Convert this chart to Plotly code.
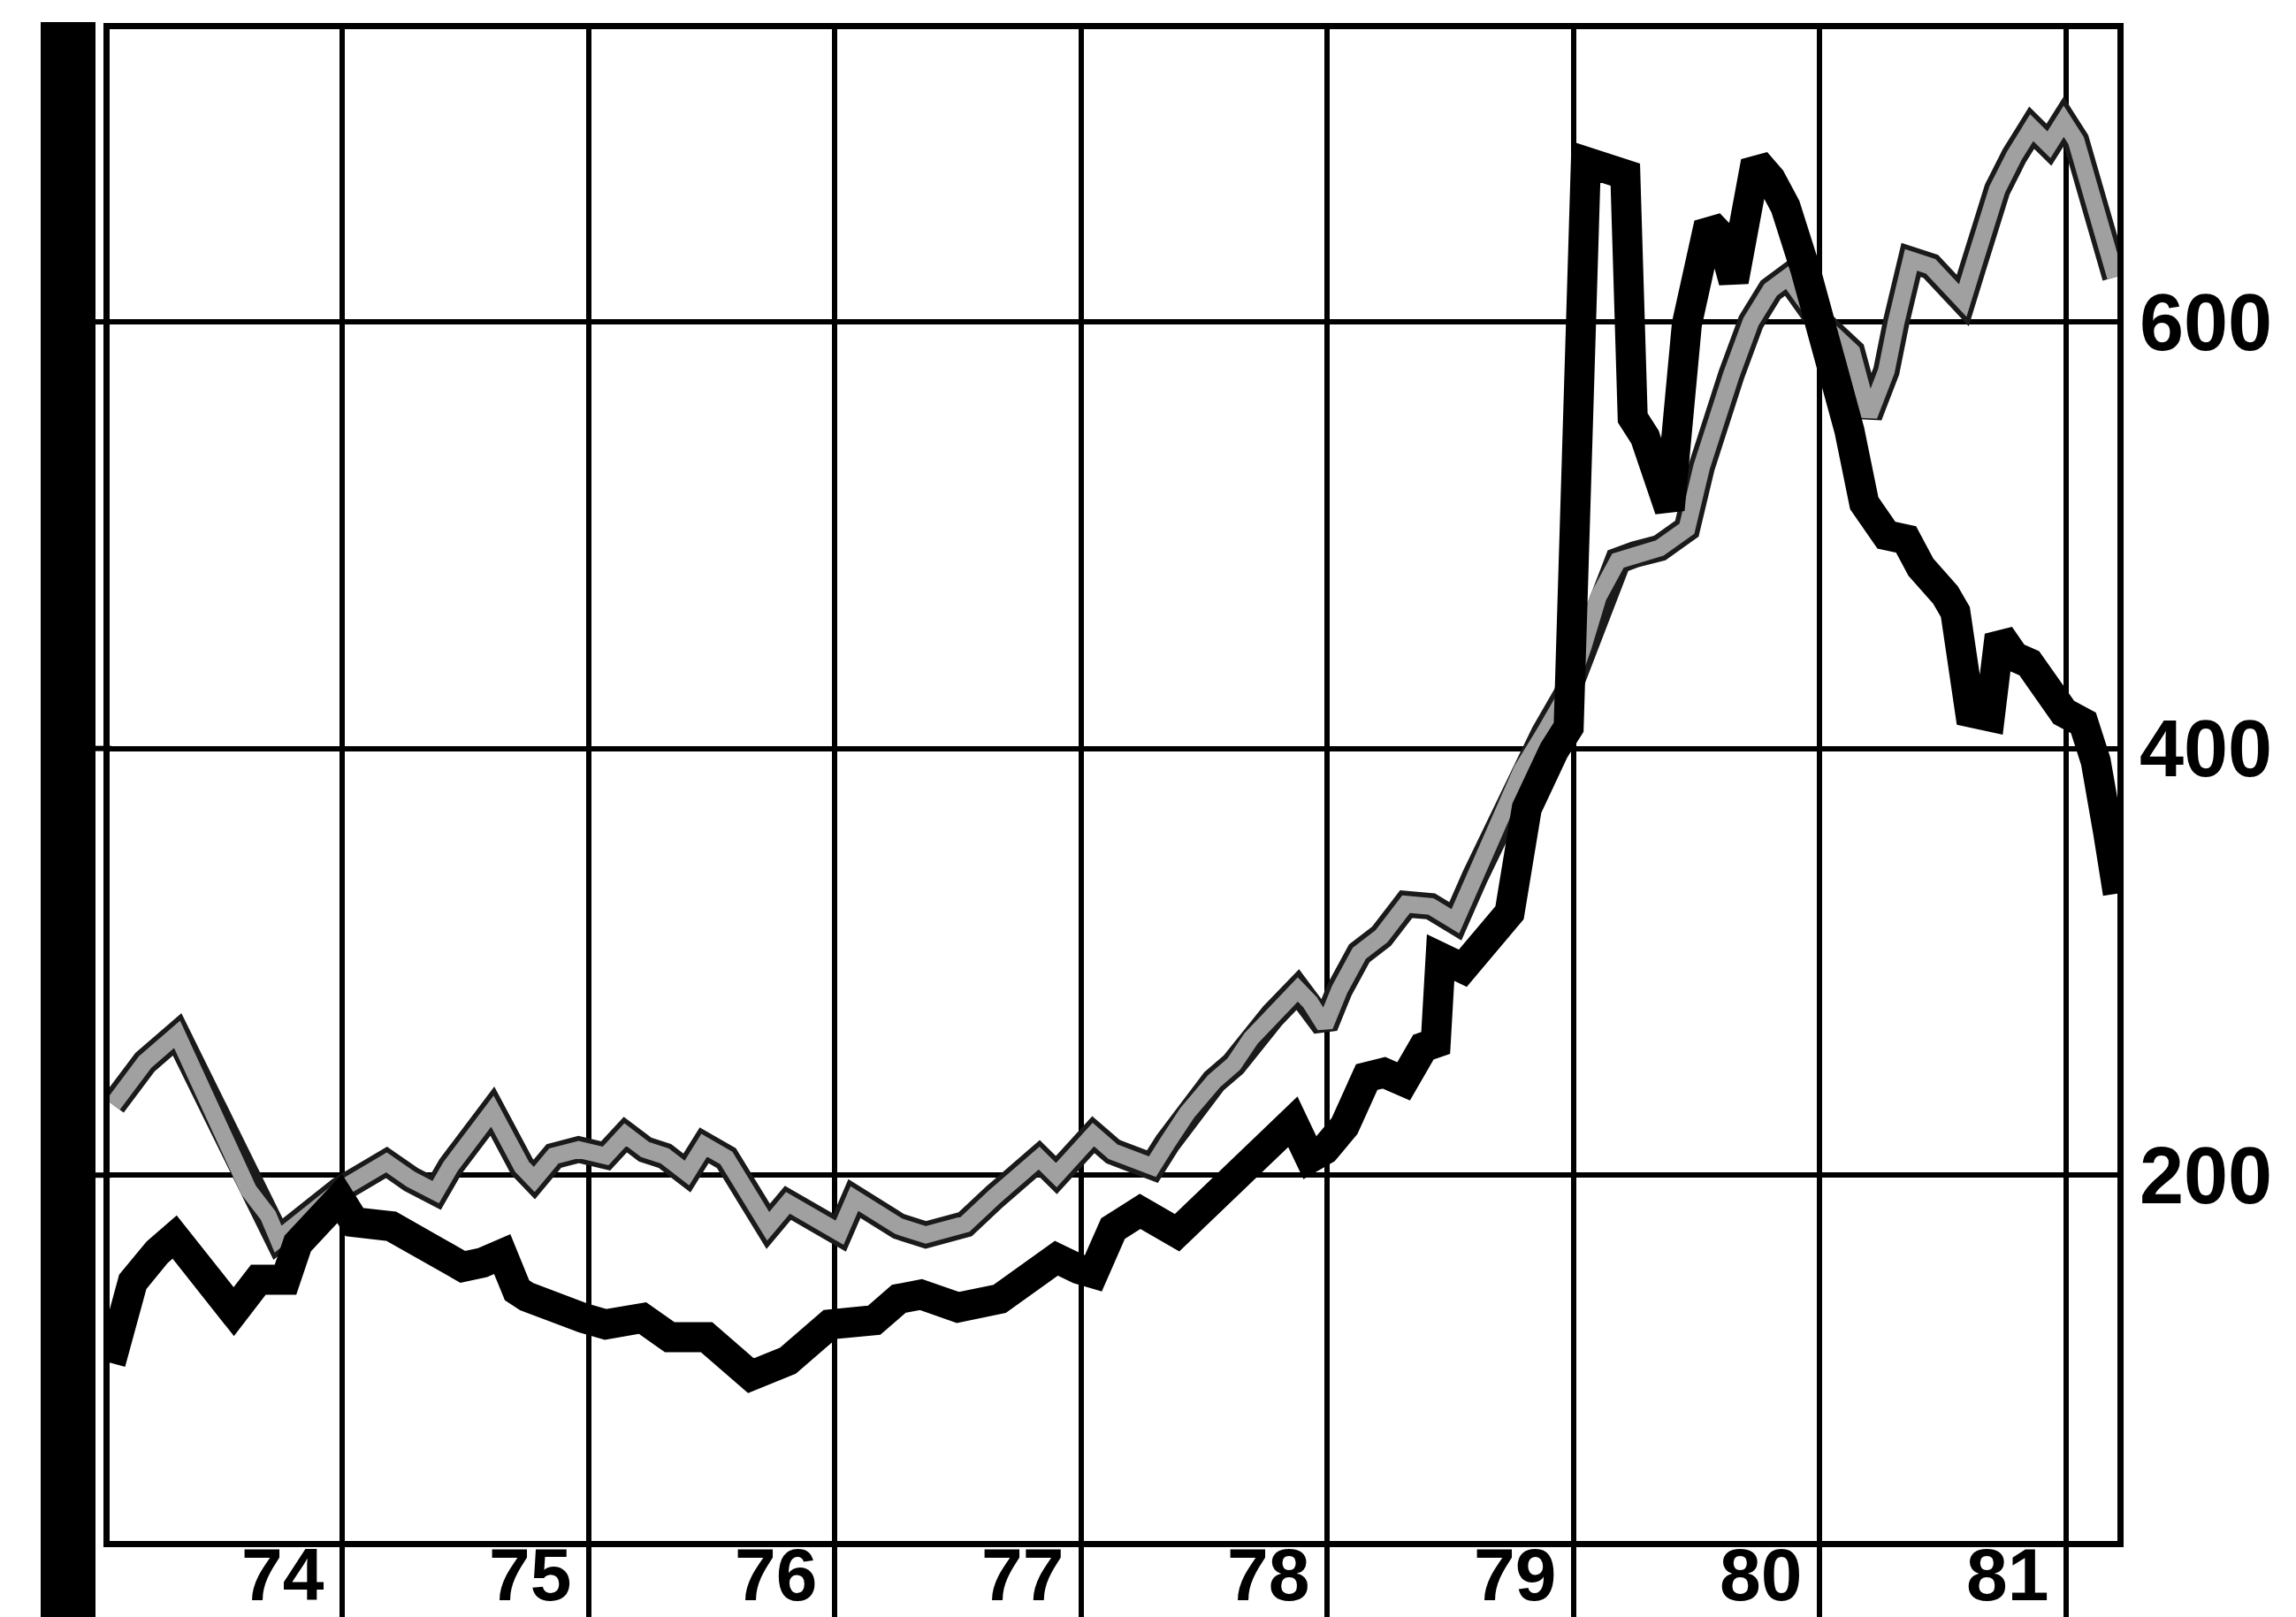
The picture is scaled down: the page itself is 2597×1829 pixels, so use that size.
import plotly.graph_objects as go

# ---- data (decimal year, value) ----
black_years = [1974.06, 1974.15, 1974.25, 1974.32, 1974.56, 1974.66, 1974.77, 1974.82, 1974.99,
               1975.05, 1975.20, 1975.49, 1975.57, 1975.65, 1975.71, 1975.75, 1975.98,
               1976.07, 1976.22, 1976.33, 1976.48, 1976.66, 1976.81, 1976.98,
               1977.16, 1977.26, 1977.35, 1977.50, 1977.67, 1977.78, 1977.90, 1977.99,
               1978.05, 1978.13, 1978.24, 1978.39, 1978.48, 1978.62, 1978.73, 1978.86, 1978.93, 1978.99,
               1979.07, 1979.16, 1979.23, 1979.31, 1979.39, 1979.44, 1979.46, 1979.55, 1979.74,
               1979.81, 1979.92, 1979.98,
               1980.05, 1980.21, 1980.24, 1980.29, 1980.39, 1980.46, 1980.55, 1980.60, 1980.65,
               1980.74, 1980.80, 1980.86, 1980.94,
               1981.00, 1981.06, 1981.12, 1981.18, 1981.27, 1981.35, 1981.41, 1981.51, 1981.55,
               1981.61, 1981.64, 1981.69, 1981.73, 1981.79, 1981.85, 1981.92, 1981.99,
               1982.07, 1982.12, 1982.17, 1982.21]
black_vals = [112, 150, 164, 171, 136, 151, 151, 168, 189,
              178, 176, 157, 159, 163, 146, 143, 133,
              130, 133, 124, 124, 106, 113, 130,
              132, 142, 144, 138, 142, 150, 161, 156,
              154, 175, 183, 173, 183, 194, 210, 225, 208, 212,
              223, 246, 248, 244, 260, 262, 302, 297, 323,
              372, 399, 410,
              675, 669, 555, 546, 512, 599, 646, 640, 619,
              675, 667, 654, 625,
              602, 577, 549, 515, 500, 498, 485, 472, 464,
              417, 415, 415, 453, 443, 440, 426, 417,
              412, 394, 361, 332]

gray_years = [1974.07, 1974.12, 1974.20, 1974.33, 1974.41, 1974.49, 1974.62, 1974.70, 1974.74, 1974.99,
              1975.06, 1975.18, 1975.28, 1975.38, 1975.44, 1975.61, 1975.73, 1975.78, 1975.86, 1975.96,
              1976.07, 1976.15, 1976.23, 1976.31, 1976.40, 1976.47, 1976.56, 1976.62, 1976.73, 1976.81, 1976.93,
              1977.02, 1977.08, 1977.18, 1977.26, 1977.37, 1977.45, 1977.53, 1977.65, 1977.78, 1977.83, 1977.90, 1977.98,
              1978.05, 1978.13, 1978.21, 1978.29, 1978.35, 1978.43, 1978.54, 1978.62, 1978.69, 1978.78, 1978.88, 1978.93, 1978.99,
              1979.05, 1979.13, 1979.22, 1979.32, 1979.42, 1979.52, 1979.60, 1979.71, 1979.79, 1979.88, 1979.97,
              1980.04, 1980.10, 1980.18, 1980.25, 1980.35, 1980.46, 1980.52, 1980.64, 1980.72, 1980.80, 1980.87,
              1981.00, 1981.13, 1981.20, 1981.27, 1981.31, 1981.37, 1981.45, 1981.54, 1981.58, 1981.62, 1981.67,
              1981.72, 1981.79, 1981.86, 1981.93, 1981.99,
              1982.04, 1982.09, 1982.15, 1982.20]
gray_vals = [233, 242, 253, 266, 247, 225, 193, 181, 170, 193,
             197, 206, 198, 192, 204, 230, 204, 198, 209, 212,
             209, 219, 212, 209, 201, 214, 208, 197, 176, 187, 178,
             173, 189, 182, 176, 172, 174, 177, 190, 204, 208, 200, 210,
             219, 211, 208, 204, 215, 229, 244, 252, 264, 275, 287, 281, 270,
             287, 304, 312, 327, 326, 319, 340, 367, 390, 407, 425,
             448, 471, 488, 491, 494, 503, 532, 575, 600, 615, 621,
             600, 586, 556, 577, 600, 629, 626, 615, 610, 625, 645,
             662, 678, 691, 683, 694,
             685, 666, 645, 621]

year_lines = [1975, 1976, 1977, 1978, 1979, 1980, 1981, 1982]
year_labels = ["74", "75", "76", "77", "78", "79", "80", "81"]
y_ticks = [200, 400, 600]
y_labels = ["200", "400", "600"]

X_RANGE = [1974.056, 1982.208]
Y_RANGE = [28.5, 737.2]

# ---- figure ----
W, H = 2597, 1829
ML, MR, MT, MB = 116, 210, 25, 89
pw = W - ML - MR
ph = H - MT - MB

def px_to_paper_x(px):
    return (px - ML) / pw

def px_to_paper_y(py):
    return (H - MB - py) / ph

def val_to_paper_y(v):
    return (v - Y_RANGE[0]) / (Y_RANGE[1] - Y_RANGE[0])

fig = go.Figure()

# gray series: dark outline + gray core (halftone look)
fig.add_trace(go.Scatter(x=gray_years, y=gray_vals, mode="lines",
                         line=dict(color="#1a1a1a", width=30), hoverinfo="skip"))
fig.add_trace(go.Scatter(x=gray_years, y=gray_vals, mode="lines",
                         line=dict(color="#a0a0a0", width=19), hoverinfo="skip"))
# black series
fig.add_trace(go.Scatter(x=black_years, y=black_vals, mode="lines",
                         line=dict(color="#000000", width=34), hoverinfo="skip"))

y_font = dict(family="Liberation Sans, Arial, sans-serif", size=90, color="black", weight="bold")
x_font = dict(family="Liberation Sans, Arial, sans-serif", size=84, color="black", weight="bold")

annotations = []
for yr, lab in zip(year_lines, year_labels):
    annotations.append(dict(x=yr, y=px_to_paper_y(1827), xref="x", yref="paper", text=lab,
                            showarrow=False, xanchor="right", yanchor="bottom", xshift=-18,
                            font=x_font))

shapes = [
    # dark binding strip on the left edge
    dict(type="rect", xref="paper", yref="paper",
         x0=px_to_paper_x(38), x1=px_to_paper_x(100),
         y0=px_to_paper_y(H + 5), y1=px_to_paper_y(17),
         fillcolor="black", line=dict(width=0), layer="above"),
    # page edge line at the far right
    dict(type="rect", xref="paper", yref="paper",
         x0=px_to_paper_x(2585), x1=px_to_paper_x(2600),
         y0=px_to_paper_y(H + 5), y1=px_to_paper_y(-5),
         fillcolor="black", line=dict(width=0), layer="above"),
]
# short stubs of the horizontal rules between frame and strip
for v in y_ticks:
    shapes.append(dict(type="line", xref="paper", yref="paper",
                       x0=px_to_paper_x(100), x1=px_to_paper_x(118),
                       y0=val_to_paper_y(v), y1=val_to_paper_y(v),
                       line=dict(color="black", width=6), layer="above"))

fig.update_layout(
    width=W, height=H,
    margin=dict(l=ML, r=MR, t=MT, b=MB, pad=0),
    paper_bgcolor="white", plot_bgcolor="white",
    showlegend=False,
    annotations=annotations,
    shapes=shapes,
    xaxis=dict(
        range=X_RANGE,
        tickmode="array", tickvals=year_lines, showticklabels=False,
        showgrid=True, gridcolor="black", gridwidth=6,
        ticks="outside", ticklen=82, tickwidth=6, tickcolor="black",
        showline=True, linecolor="black", linewidth=7, mirror=True,
        zeroline=False, fixedrange=True,
    ),
    yaxis=dict(
        range=Y_RANGE, side="right",
        tickmode="array", tickvals=y_ticks, ticktext=y_labels,
        tickfont=y_font,
        showgrid=True, gridcolor="black", gridwidth=6,
        ticks="", ticklabelstandoff=0,
        showline=True, linecolor="black", linewidth=7, mirror=True,
        zeroline=False, fixedrange=True,
    ),
)

fig.write_html("out.html")
